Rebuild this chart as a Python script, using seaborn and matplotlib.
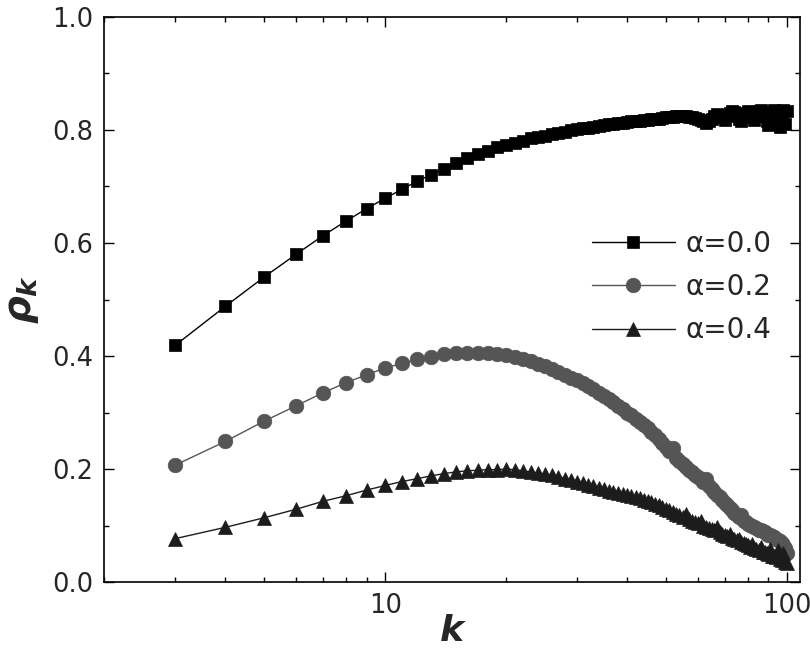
import numpy as np
import pandas as pd
import matplotlib
matplotlib.use("Agg")
import matplotlib.pyplot as plt
import seaborn as sns
from matplotlib.ticker import LogLocator, NullFormatter, MultipleLocator

# k = 3 .. 100
k_values = list(range(3, 101))

rho_a00 = [
    0.419, 0.488, 0.540, 0.580, 0.613, 0.639, 0.661, 0.679, 0.695, 0.709,
    0.721, 0.731, 0.741, 0.750, 0.757, 0.763, 0.769, 0.773, 0.777, 0.781,
    0.785, 0.788, 0.790, 0.793, 0.795, 0.797, 0.799, 0.801, 0.803, 0.804,
    0.806, 0.807, 0.809, 0.810, 0.811, 0.812, 0.813, 0.814, 0.815, 0.816,
    0.816, 0.817, 0.818, 0.819, 0.819, 0.820, 0.821, 0.822, 0.822, 0.823,
    0.824, 0.824, 0.825, 0.824, 0.823, 0.822, 0.821, 0.820, 0.818, 0.816,
    0.812, 0.815, 0.820, 0.824, 0.828, 0.826, 0.822, 0.818, 0.824, 0.830,
    0.834, 0.831, 0.826, 0.820, 0.815, 0.822, 0.830, 0.833, 0.828, 0.822,
    0.818, 0.826, 0.833, 0.835, 0.830, 0.824, 0.816, 0.808, 0.820, 0.832,
    0.836, 0.830, 0.818, 0.806, 0.826, 0.835, 0.810, 0.833,
]

rho_a02 = [
    0.207, 0.249, 0.285, 0.312, 0.335, 0.353, 0.367, 0.379, 0.387, 0.394,
    0.399, 0.403, 0.405, 0.406, 0.406, 0.405, 0.403, 0.401, 0.398, 0.395,
    0.391, 0.386, 0.382, 0.377, 0.372, 0.367, 0.362, 0.357, 0.352, 0.347,
    0.341, 0.335, 0.330, 0.324, 0.318, 0.312, 0.306, 0.300, 0.295, 0.289,
    0.283, 0.278, 0.272, 0.266, 0.260, 0.253, 0.246, 0.239, 0.232, 0.238,
    0.220, 0.214, 0.209, 0.204, 0.199, 0.195, 0.190, 0.186, 0.182, 0.178,
    0.183, 0.170, 0.165, 0.160, 0.155, 0.150, 0.145, 0.140, 0.136, 0.131,
    0.127, 0.123, 0.119, 0.115, 0.118, 0.109, 0.106, 0.103, 0.101, 0.099,
    0.097, 0.095, 0.093, 0.092, 0.090, 0.088, 0.086, 0.084, 0.083, 0.081,
    0.079, 0.077, 0.075, 0.073, 0.070, 0.066, 0.060, 0.052,
]

rho_a04 = [
    0.077, 0.097, 0.114, 0.129, 0.143, 0.153, 0.163, 0.171, 0.178, 0.183,
    0.188, 0.192, 0.195, 0.197, 0.198, 0.199, 0.199, 0.200, 0.199, 0.197,
    0.195, 0.193, 0.191, 0.189, 0.186, 0.183, 0.180, 0.178, 0.175, 0.172,
    0.170, 0.167, 0.165, 0.162, 0.160, 0.158, 0.156, 0.154, 0.152, 0.150,
    0.148, 0.146, 0.144, 0.141, 0.139, 0.136, 0.133, 0.130, 0.127, 0.124,
    0.121, 0.118, 0.116, 0.121, 0.111, 0.108, 0.106, 0.104, 0.108, 0.100,
    0.098, 0.096, 0.094, 0.092, 0.097, 0.088, 0.086, 0.084, 0.082, 0.086,
    0.078, 0.076, 0.075, 0.077, 0.071, 0.069, 0.067, 0.065, 0.063, 0.068,
    0.060, 0.058, 0.057, 0.063, 0.054, 0.053, 0.051, 0.050, 0.058, 0.047,
    0.046, 0.044, 0.056, 0.041, 0.040, 0.052, 0.036, 0.034,
]

labels = ["α=0.0", "α=0.2", "α=0.4"]

sns.set_style("ticks")
plt.rcParams["font.family"] = ["DejaVu Sans"]
plt.rcParams["mathtext.fontset"] = "custom"
plt.rcParams["mathtext.it"] = "DejaVu Sans:italic:bold"
plt.rcParams["mathtext.rm"] = "DejaVu Sans:bold"

fig, ax = plt.subplots(figsize=(8.1, 6.49), dpi=100)
fig.subplots_adjust(left=0.129, right=0.988, bottom=0.103, top=0.974)

series = [
    (rho_a00, labels[0], "s", 9.0, "#000000"),
    (rho_a02, labels[1], "o", 10.5, "#555555"),
    (rho_a04, labels[2], "^", 9.5, "#1c1c1c"),
]
for vals, lab, mk, ms, col in series:
    df = pd.DataFrame({"k": k_values, "rho": vals})
    sns.lineplot(data=df, x="k", y="rho", ax=ax, color=col, marker=mk,
                 markersize=ms, markeredgecolor=col, markeredgewidth=0.5,
                 linewidth=1.0, label=lab)

ax.set_xscale("log")
ax.set_xlim(2, 108)
ax.set_ylim(0, 1.0)
ax.set_xticks([10, 100])
ax.set_xticklabels(["10", "100"])
ax.xaxis.set_minor_locator(LogLocator(base=10, subs=range(2, 10)))
ax.xaxis.set_minor_formatter(NullFormatter())
ax.set_yticks([0.0, 0.2, 0.4, 0.6, 0.8, 1.0])
ax.set_yticklabels(["0.0", "0.2", "0.4", "0.6", "0.8", "1.0"])
ax.yaxis.set_minor_locator(MultipleLocator(0.1))

ax.tick_params(which="both", direction="in", top=True, right=True,
               width=1.0, labelsize=18.5, color="black")
ax.tick_params(which="major", length=7.5, pad=8)
ax.tick_params(which="minor", length=3.8)
for sp in ax.spines.values():
    sp.set_linewidth(1.2)
    sp.set_color("black")

ax.set_xlabel("k", fontsize=26, fontweight="bold", fontstyle="italic", labelpad=-4)
ax.set_ylabel(r"$\rho_k$", fontsize=28, labelpad=8)

ax.legend(loc="center left", bbox_to_anchor=(0.70, 0.522), frameon=False,
          fontsize=20, handlelength=3.0, handletextpad=0.4,
          labelspacing=0.55, borderpad=0, borderaxespad=0)

fig.savefig("out.png", dpi=100)
